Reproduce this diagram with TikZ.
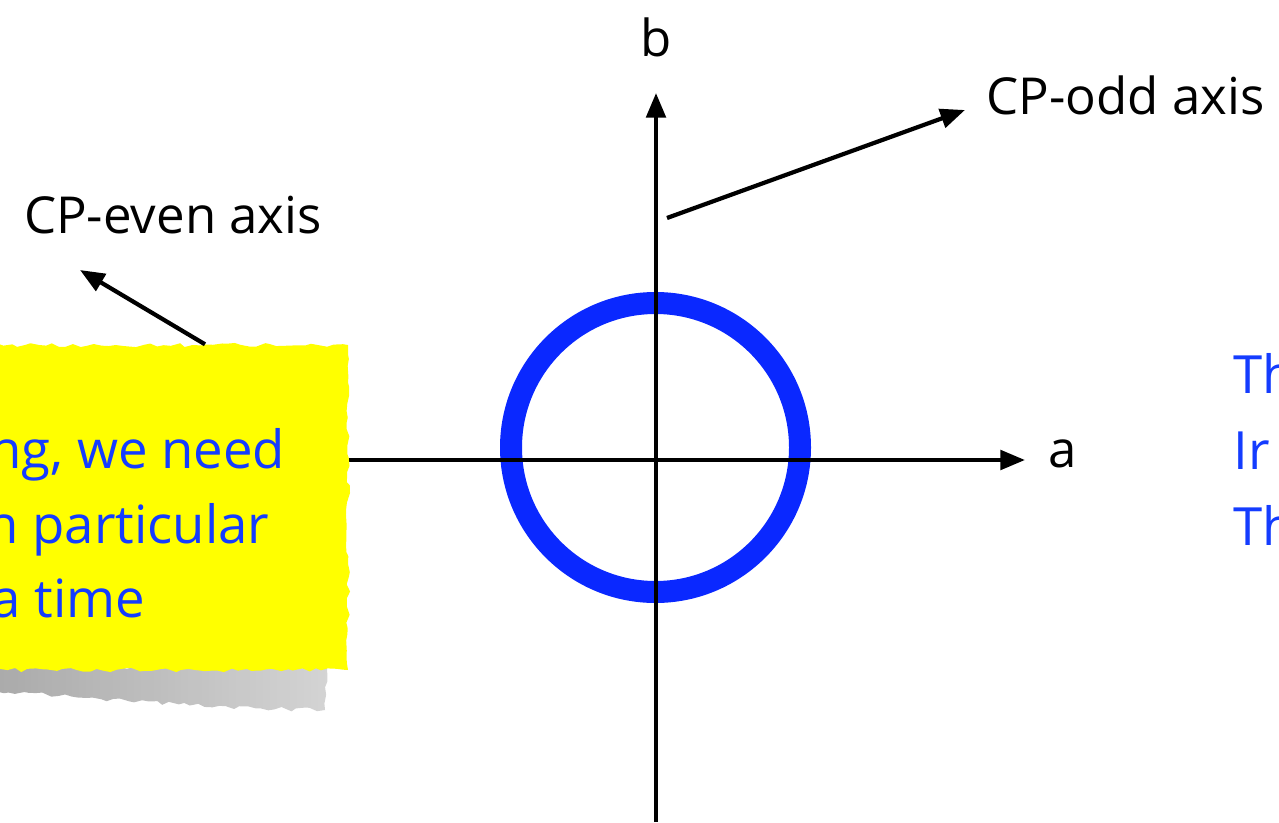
\documentclass[tikz,border=0pt]{standalone}
\usepackage{fontspec}
\setmainfont{Open Sans}
\usetikzlibrary{arrows.meta, positioning, decorations.pathmorphing}
\usepackage{xcolor}
\definecolor{noteyellow}{RGB}{255,255,0}
\definecolor{noteblue}{RGB}{20,60,255}
\definecolor{ringblue}{RGB}{10,40,255}

\begin{document}
\begin{tikzpicture}[
    axis/.style={line width=1.2pt, -{Triangle[length=7pt,width=5.5pt]}},
    pointer/.style={line width=1.2pt, -{Triangle[length=7pt,width=5.5pt]}},
    lbl/.style={inner sep=0pt, font=\fontsize{14.5}{17}\selectfont},
    bluetext/.style={inner sep=0pt, text=noteblue, font=\fontsize{15}{21.6}\selectfont, align=left},
    torn/.style={decorate, decoration={random steps, segment length=2pt, amplitude=0.6pt}}]
  \useasboundingbox (0,0) rectangle (12.79,8.22);

  % ring and axes
  \draw[ringblue, line width=0.22cm] (6.555,3.745) circle (1.445);
  \coordinate (xstart) at (3.45,3.62);
  \coordinate (xend) at (10.25,3.62);
  \coordinate (ybot) at (6.56,0);
  \coordinate (ytop) at (6.56,7.29);
  \draw[axis] (xstart) -- (xend);
  \draw[axis] (ybot) -- (ytop);
  \node[lbl] (alabel) at (10.63,3.68) {a};
  \node[lbl] (blabel) at (6.56,7.85) {b};

  % CP-odd pointer
  \node[lbl, anchor=west] (oddlbl) at (9.86,7.27) {CP-odd axis};
  \coordinate (oddtail) at (6.67,6.04);
  \coordinate (oddtip) at (9.65,7.12);
  \draw[pointer] (oddtail) -- (oddtip);

  % yellow note with its shadow
  \shade[torn, left color=gray!80, right color=gray!40, opacity=0.85]
    (-0.2,1.55) -- (3.27,1.55) -- (3.25,1.12) .. controls (2,1.14) and (0.8,1.25) .. (-0.2,1.32) -- cycle;
  \node[torn, fill=noteyellow, minimum width=3.7cm, minimum height=3.25cm, inner sep=0pt] (note) at (1.63,3.145) {};
  \node[bluetext, anchor=base east] (noteline1) at (2.86,3.54) {ng, we need};
  \node[bluetext, anchor=base east] (noteline2) at (2.70,2.79) {n particular};
  \node[bluetext, anchor=base east] (noteline3) at (1.46,2.05) {a time};

  % CP-even pointer
  \node[lbl] (evenlbl) at (1.73,6.07) {CP-even axis};
  \coordinate (eventip) at (0.80,5.52);
  \draw[pointer] ([xshift=4.2mm]note.north) -- (eventip);

  % text cut by the right edge
  \node[bluetext, anchor=base west] (sidetxt) at (12.33,2.77) {Th\\Ir\\Th};
\end{tikzpicture}
\end{document}
